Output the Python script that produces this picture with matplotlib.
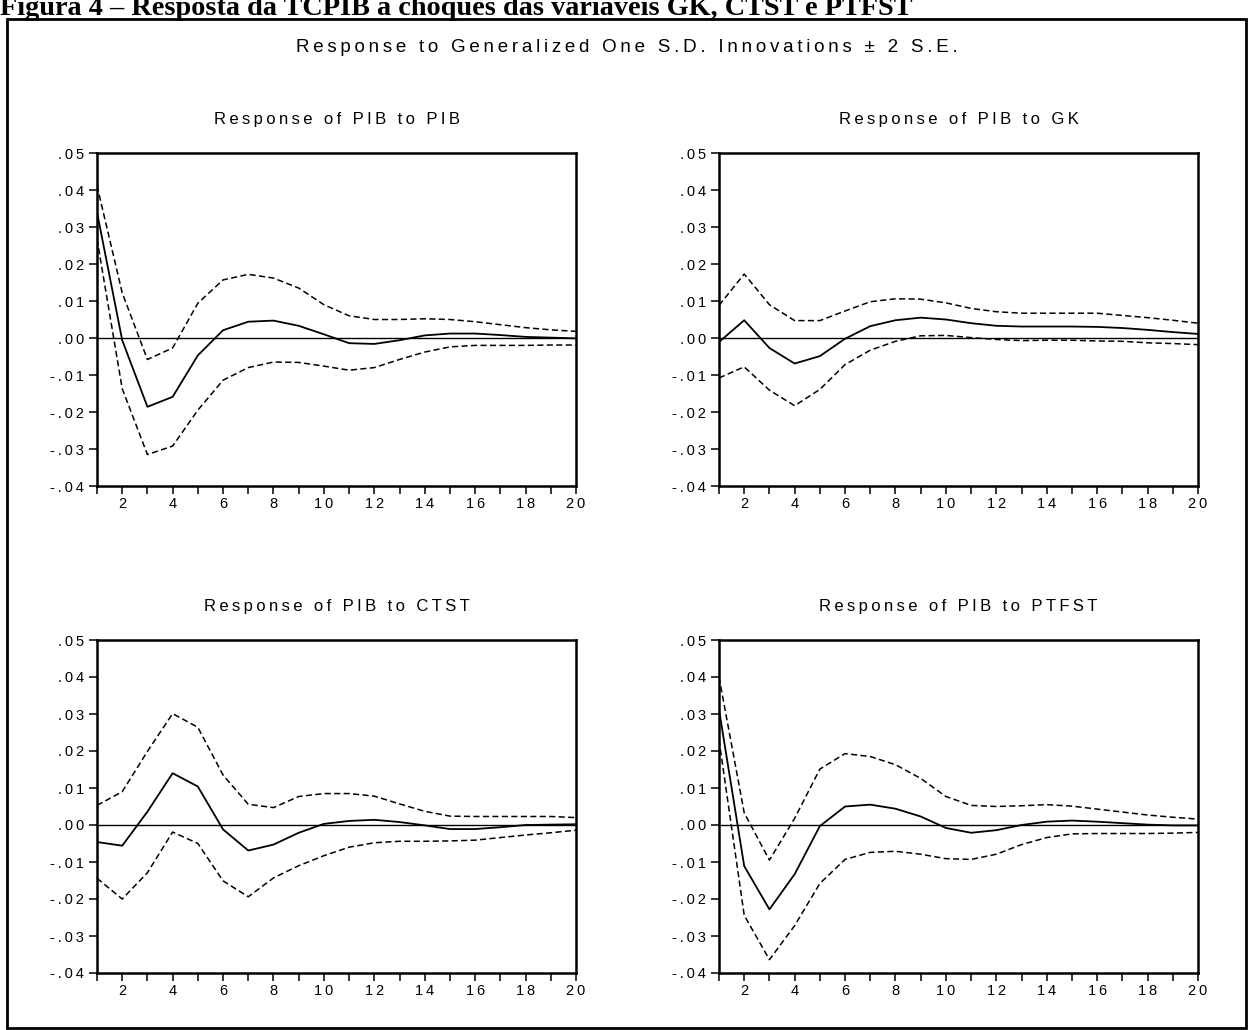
import matplotlib
matplotlib.use('Agg')
import matplotlib.pyplot as plt
from matplotlib.patches import Rectangle
from matplotlib.ticker import FuncFormatter

plt.rcParams['font.family'] = ['Liberation Sans', 'DejaVu Sans']

# periods
periods = list(range(1, 21))

# Response of PIB to PIB
pib_pib = [0.034, -0.0006, -0.0186, -0.0159, -0.0047, 0.0021, 0.0044, 0.0047, 0.0033, 0.0010,
           -0.0014, -0.0016, -0.0006, 0.0007, 0.0012, 0.0012, 0.0008, 0.0003, 0.0001, -0.0001]
pib_pib_hi = [0.0412, 0.0122, -0.0058, -0.0027, 0.0094, 0.0157, 0.0172, 0.0162, 0.0135, 0.0090,
              0.0060, 0.0050, 0.0050, 0.0052, 0.0050, 0.0044, 0.0036, 0.0028, 0.0022, 0.0018]
pib_pib_lo = [0.0268, -0.0137, -0.0315, -0.0292, -0.0195, -0.0114, -0.0080, -0.0065, -0.0066, -0.0076,
              -0.0087, -0.0080, -0.0058, -0.0038, -0.0024, -0.0020, -0.0020, -0.0020, -0.0019, -0.0019]

# Response of PIB to GK
pib_gk = [-0.0011, 0.0048, -0.0027, -0.0069, -0.0049, -0.0002, 0.0032, 0.0048, 0.0055, 0.0050,
          0.0040, 0.0033, 0.0031, 0.0031, 0.0031, 0.0030, 0.0027, 0.0022, 0.0016, 0.0011]
pib_gk_hi = [0.0088, 0.0173, 0.0090, 0.0047, 0.0047, 0.0073, 0.0098, 0.0106, 0.0105, 0.0095,
             0.0080, 0.0071, 0.0067, 0.0067, 0.0067, 0.0067, 0.0061, 0.0055, 0.0048, 0.0040]
pib_gk_lo = [-0.0108, -0.0078, -0.0141, -0.0183, -0.0139, -0.0072, -0.0033, -0.0009, 0.0006, 0.0007,
             0.0001, -0.0004, -0.0007, -0.0006, -0.0006, -0.0008, -0.0009, -0.0013, -0.0015, -0.0018]

# Response of PIB to CTST
pib_ctst = [-0.0046, -0.0056, 0.0036, 0.0140, 0.0104, -0.0012, -0.0069, -0.0053, -0.0021, 0.0003,
            0.0011, 0.0014, 0.0008, -0.0001, -0.0011, -0.0011, -0.0006, 0.0000, 0.0001, 0.0002]
pib_ctst_hi = [0.0053, 0.0090, 0.0199, 0.0301, 0.0264, 0.0135, 0.0056, 0.0047, 0.0077, 0.0085,
               0.0085, 0.0078, 0.0057, 0.0037, 0.0024, 0.0023, 0.0023, 0.0023, 0.0023, 0.0020]
pib_ctst_lo = [-0.0144, -0.0200, -0.0129, -0.0019, -0.0050, -0.0151, -0.0194, -0.0143, -0.0110, -0.0083,
               -0.0060, -0.0048, -0.0044, -0.0044, -0.0043, -0.0041, -0.0034, -0.0027, -0.0021, -0.0014]

# Response of PIB to PTFST
pib_ptfst = [0.0312, -0.0111, -0.0228, -0.0133, -0.0003, 0.0050, 0.0055, 0.0044, 0.0023, -0.0008,
             -0.0021, -0.0014, 0.0000, 0.0009, 0.0012, 0.0009, 0.0005, 0.0001, -0.0001, -0.0001]
pib_ptfst_hi = [0.0400, 0.0033, -0.0095, 0.0018, 0.0151, 0.0193, 0.0185, 0.0163, 0.0126, 0.0077,
                0.0053, 0.0050, 0.0052, 0.0055, 0.0051, 0.0043, 0.0035, 0.0027, 0.0021, 0.0016]
pib_ptfst_lo = [0.0230, -0.0244, -0.0364, -0.0272, -0.0158, -0.0093, -0.0074, -0.0071, -0.0079, -0.0091,
                -0.0093, -0.0079, -0.0053, -0.0034, -0.0024, -0.0023, -0.0023, -0.0023, -0.0022, -0.0020]

titles = ['Response of PIB to PIB', 'Response of PIB to GK',
          'Response of PIB to CTST', 'Response of PIB to PTFST']
yticks = [-0.04, -0.03, -0.02, -0.01, 0.0, 0.01, 0.02, 0.03, 0.04, 0.05]

TS = '\u2009'


def spaced(s):
    # EViews style wide letter spacing
    return TS.join(s)


def ylab(v, pos):
    s = '%.2f' % v
    if s == '-0.00':
        s = '0.00'
    s = s.replace('0.', '.', 1)
    return spaced(s)


def panel(ax, title, mid, hi, lo):
    ax.plot(periods, hi, color='black', lw=1.1, dashes=(4, 2.2))
    ax.plot(periods, lo, color='black', lw=1.1, dashes=(4, 2.2))
    ax.plot(periods, mid, color='black', lw=1.3)
    ax.axhline(0, color='black', lw=1.0)
    ax.set_xlim(1, 20)
    ax.set_ylim(-0.04, 0.05)
    ax.set_yticks(yticks)
    ax.yaxis.set_major_formatter(FuncFormatter(ylab))
    ax.set_xticks(periods)
    ax.set_xticklabels([spaced(str(p)) if p % 2 == 0 else '' for p in periods])
    ax.tick_params(direction='out', length=5.5, width=1.1, labelsize=10.5)
    ax.tick_params(axis='y', pad=4)
    ax.tick_params(axis='x', pad=2.5)
    for sp in ax.spines.values():
        sp.set_linewidth(1.8)
    ax.set_title(spaced(title), fontsize=12, pad=21)


fig = plt.figure(figsize=(12.53, 10.30), dpi=100)

w = 479 / 1253
h = 333 / 1030
ax1 = fig.add_axes([97 / 1253, 1 - 486 / 1030, w, h])
ax2 = fig.add_axes([719 / 1253, 1 - 486 / 1030, w, h])
ax3 = fig.add_axes([97 / 1253, 1 - 973 / 1030, w, h])
ax4 = fig.add_axes([719 / 1253, 1 - 973 / 1030, w, h])

panel(ax1, titles[0], pib_pib, pib_pib_hi, pib_pib_lo)
panel(ax2, titles[1], pib_gk, pib_gk_hi, pib_gk_lo)
panel(ax3, titles[2], pib_ctst, pib_ctst_hi, pib_ctst_lo)
panel(ax4, titles[3], pib_ptfst, pib_ptfst_hi, pib_ptfst_lo)

fig.text(0.5, 1 - 47 / 1030, spaced('Response to Generalized One S.D. Innovations \u00b1 2 S.E.'),
         ha='center', va='center', fontsize=13.5)

# frame around the chart
fig.patches.append(Rectangle((7 / 1253, 1 - 1028 / 1030), 1239 / 1253, 1009 / 1030,
                             transform=fig.transFigure, fill=False, lw=2, ec='black'))

# caption cut off by the top edge
fig.text(0.0, 1 - 15 / 1030, 'Figura 4 \u2013 Resposta da TCPIB a choques das vari\u00e1veis GK, CTST e PTFST',
         family=['Liberation Serif', 'DejaVu Serif'], weight='bold', fontsize=20.3,
         ha='left', va='baseline')

fig.savefig('out.png', dpi=100)
